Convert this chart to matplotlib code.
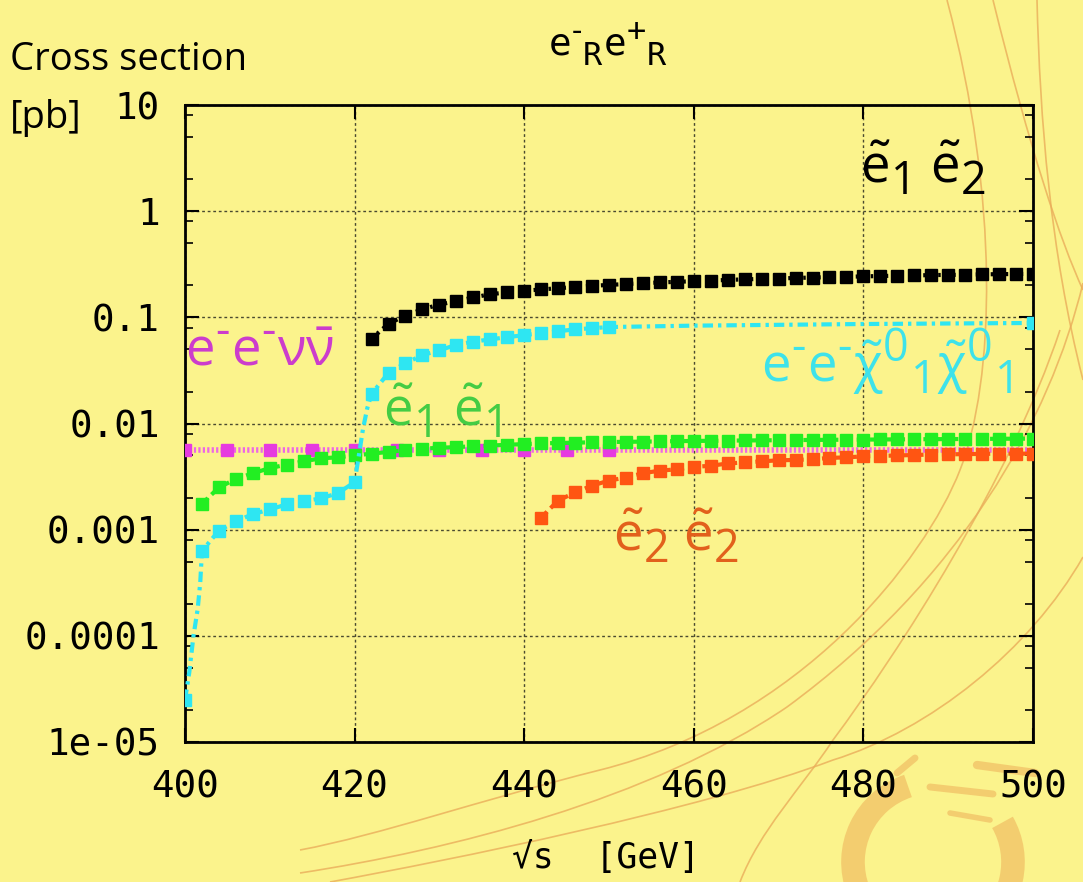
import numpy as np
import matplotlib
matplotlib.use("Agg")
import matplotlib.pyplot as plt
import matplotlib._mathtext as mathtext_internal
from matplotlib.path import Path
from matplotlib.patches import PathPatch, Arc
from matplotlib.lines import Line2D
from matplotlib.ticker import LogLocator, FixedLocator, NullFormatter, FixedFormatter

plt.rcParams['mathtext.fontset'] = 'custom'
plt.rcParams['mathtext.rm'] = 'Open Sans'
plt.rcParams['mathtext.it'] = 'Open Sans:italic'
plt.rcParams['mathtext.sf'] = 'Open Sans'
# gnuplot-like sub/superscripts: nearly full size and dropped lower
mathtext_internal.SHRINK_FACTOR = 0.85
mathtext_internal.FontConstantsBase.sub1 = 0.45

# ---- data (sqrt(s) in GeV, cross section in pb) ----
black_x = [422, 424, 426, 428, 430, 432, 434, 436, 438, 440, 442, 444, 446, 448, 450,
           452, 454, 456, 458, 460, 462, 464, 466, 468, 470, 472, 474, 476, 478, 480,
           482, 484, 486, 488, 490, 492, 494, 496, 498, 500]
black_y = [0.063, 0.087, 0.104, 0.119, 0.132, 0.142, 0.154, 0.165, 0.172, 0.178, 0.183,
           0.188, 0.193, 0.198, 0.202, 0.206, 0.210, 0.213, 0.216, 0.219, 0.222, 0.225,
           0.228, 0.230, 0.232, 0.235, 0.237, 0.239, 0.241, 0.243, 0.245, 0.247, 0.248,
           0.250, 0.251, 0.252, 0.254, 0.255, 0.256, 0.257]

cyan_x = [400, 400.5, 401, 401.5, 401.8, 402, 404, 406, 408, 410, 412, 414, 416, 418, 420,
          420.5, 421, 421.5, 422, 424, 426, 428, 430, 432, 434, 436, 438, 440, 442, 444,
          446, 448, 450, 460, 470, 480, 490, 500]
cyan_y = [2.5e-5, 4.5e-5, 1.0e-4, 1.8e-4, 3.2e-4, 6.3e-4, 9.8e-4, 1.2e-3, 1.4e-3, 1.55e-3,
          1.73e-3, 1.85e-3, 1.97e-3, 2.2e-3, 2.8e-3, 5.0e-3, 9.0e-3, 1.4e-2, 1.9e-2, 3.0e-2,
          3.7e-2, 4.4e-2, 4.9e-2, 5.5e-2, 5.9e-2, 6.2e-2, 6.5e-2, 6.8e-2, 7.1e-2, 7.4e-2,
          7.7e-2, 7.9e-2, 8.1e-2, 8.35e-2, 8.5e-2, 8.65e-2, 8.75e-2, 8.85e-2]
cyan_marked = [400, 402, 404, 406, 408, 410, 412, 414, 416, 418, 420, 422, 424, 426, 428,
               430, 432, 434, 436, 438, 440, 442, 444, 446, 448, 450, 500]

green_x = [402, 404, 406, 408, 410, 412, 414, 416, 418, 420, 422, 424, 426, 428, 430, 432,
           434, 436, 438, 440, 442, 444, 446, 448, 450, 452, 454, 456, 458, 460, 462, 464,
           466, 468, 470, 472, 474, 476, 478, 480, 482, 484, 486, 488, 490, 492, 494, 496,
           498, 500]
green_y = [1.75e-3, 2.5e-3, 3.0e-3, 3.4e-3, 3.8e-3, 4.1e-3, 4.4e-3, 4.7e-3, 4.8e-3, 5.0e-3,
           5.2e-3, 5.4e-3, 5.6e-3, 5.8e-3, 5.9e-3, 6.0e-3, 6.1e-3, 6.2e-3, 6.3e-3, 6.4e-3,
           6.5e-3, 6.55e-3, 6.6e-3, 6.65e-3, 6.7e-3, 6.72e-3, 6.75e-3, 6.78e-3, 6.82e-3,
           6.85e-3, 6.87e-3, 6.9e-3, 6.92e-3, 6.94e-3, 6.96e-3, 6.98e-3, 7.0e-3, 7.02e-3,
           7.04e-3, 7.05e-3, 7.07e-3, 7.09e-3, 7.1e-3, 7.12e-3, 7.13e-3, 7.15e-3, 7.16e-3,
           7.18e-3, 7.19e-3, 7.2e-3]

magenta_x = [400, 405, 410, 415, 420, 425, 430, 435, 440, 445, 450, 460, 470, 480, 490, 500]
magenta_y = [5.6e-3] * len(magenta_x)
magenta_marked = [400, 405, 410, 415, 420, 425, 430, 435, 440, 445, 450]

orange_x = [442, 444, 446, 448, 450, 452, 454, 456, 458, 460, 462, 464, 466, 468, 470, 472,
            474, 476, 478, 480, 482, 484, 486, 488, 490, 492, 494, 496, 498, 500]
orange_y = [1.3e-3, 1.88e-3, 2.24e-3, 2.6e-3, 2.9e-3, 3.1e-3, 3.4e-3, 3.6e-3, 3.7e-3,
            3.9e-3, 4.0e-3, 4.2e-3, 4.3e-3, 4.4e-3, 4.5e-3, 4.54e-3, 4.6e-3, 4.74e-3,
            4.8e-3, 4.9e-3, 4.95e-3, 5.0e-3, 5.05e-3, 5.1e-3, 5.12e-3, 5.15e-3, 5.17e-3,
            5.2e-3, 5.2e-3, 5.2e-3]

x_ticks = [400, 420, 440, 460, 480, 500]
y_ticks = [1e-5, 1e-4, 1e-3, 1e-2, 1e-1, 1, 10]
y_tick_labels = ['1e-05', '0.0001', '0.001', '0.01', '0.1', '1', '10']

BG = '#fbf38c'
DECO = '#eaad5a'
W, H = 1083, 882


def fx(px):
    return px / W


def fy(py):
    return 1 - py / H


fig = plt.figure(figsize=(W / 100, H / 100), dpi=100)
fig.patch.set_facecolor(BG)

# slide decoration (pixel coords): thin orange arcs, swirl in lower right corner
deco_curves = [
    [(947, 0), (1000, 200), (995, 380), (960, 470),
     (925, 560), (800, 720), (600, 770), (480, 800), (380, 835), (300, 850)],
    [(1060, 330), (1010, 480), (900, 650), (833, 740),
     (800, 790), (760, 830), (740, 882)],
    [(1083, 283), (1050, 420), (960, 580), (787, 707),
     (650, 800), (450, 850), (300, 873)],
    [(1083, 557), (1030, 650), (930, 730), (833, 760),
     (700, 810), (450, 860), (330, 882)],
    [(993, 0), (1030, 150), (1060, 240), (1083, 290)],
    [(1037, 0), (1040, 120), (1050, 250), (1083, 380)],
]
for pts in deco_curves:
    verts = [(fx(x), fy(y)) for x, y in pts]
    codes = [Path.MOVETO] + [Path.CURVE4] * (len(verts) - 1)
    fig.add_artist(PathPatch(Path(verts, codes), transform=fig.transFigure, fc='none',
                             ec=DECO, lw=1.2, alpha=0.8, zorder=-1))
for t1, t2 in [(105, 290), (-60, 35)]:
    fig.add_artist(Arc((fx(933), fy(862)), 2 * 80 / W, 2 * 80 / H, theta1=t1, theta2=t2,
                       transform=fig.transFigure, color='#f2c468', lw=17, alpha=0.8,
                       zorder=-1))
for (x0, y0), (x1, y1), w in [((930, 787), (993, 794), 5), ((950, 813), (990, 820), 4),
                              ((977, 765), (1035, 773), 6), ((897, 773), (915, 758), 5)]:
    fig.add_artist(Line2D([fx(x0), fx(x1)], [fy(y0), fy(y1)], transform=fig.transFigure,
                          color='#f2c468', lw=w, alpha=0.8, solid_capstyle='round',
                          zorder=-1))

ax = fig.add_axes([fx(185), fy(742), fx(1033) - fx(185), fy(105) - fy(742)])
ax.set_facecolor('none')
ax.set_yscale('log')
ax.set_xlim(400, 500)
ax.set_ylim(1e-5, 10)

ms = 8
ax.plot(magenta_x, magenta_y, color='#ee66e6', lw=4, ls=(0, (0.4, 0.4)),
        marker='s', ms=ms, mfc='#e63ae0', mec='#e63ae0',
        markevery=[magenta_x.index(v) for v in magenta_marked], zorder=3)
ax.plot(green_x, green_y, color='#22ee22', lw=3, ls=(0, (2, 1.2)),
        marker='s', ms=ms, mfc='#22ee22', mec='#22ee22', zorder=4)
ax.plot(orange_x, orange_y, color='#ff5512', lw=3, ls=(0, (2, 1.2)),
        marker='s', ms=ms, mfc='#ff5512', mec='#ff5512', zorder=4)
ax.plot(cyan_x, cyan_y, color='#2ee6f2', lw=3, ls=(0, (2.5, 1.2, 0.8, 1.2)),
        marker='s', ms=ms, mfc='#2ee6f2', mec='#2ee6f2',
        markevery=[cyan_x.index(v) for v in cyan_marked], zorder=5)
ax.plot(black_x, black_y, color='black', lw=3, ls=(0, (0.6, 1.2)),
        marker='s', ms=ms, mfc='black', mec='black', zorder=6)

# axes, ticks and grid in gnuplot style
for sp in ax.spines.values():
    sp.set_linewidth(2)
ax.xaxis.set_major_locator(FixedLocator(x_ticks))
ax.yaxis.set_major_locator(FixedLocator(y_ticks))
ax.yaxis.set_major_formatter(FixedFormatter(y_tick_labels))
ax.yaxis.set_minor_locator(LogLocator(base=10, subs=(2, 5, 8), numticks=20))
ax.yaxis.set_minor_formatter(NullFormatter())
ax.tick_params(axis='both', which='both', direction='in', top=True, right=True)
ax.tick_params(which='major', length=10, width=1.5, labelsize=27)
ax.tick_params(axis='x', which='major', pad=20)
ax.tick_params(axis='y', which='major', pad=18)
ax.tick_params(which='minor', length=6, width=1.2)
for lab in ax.get_xticklabels() + ax.get_yticklabels():
    lab.set_family('DejaVu Sans Mono')
ax.grid(True, which='major', color='#4a4a30', ls=(0, (2, 2)), lw=1)

# texts
fig.text(fx(10), fy(60), 'Cross section', family='Open Sans', fontsize=27.5, va='center')
fig.text(fx(10), fy(118), '[pb]', family='Open Sans', fontsize=27.5, va='center')
fig.text(fx(608), fy(45), r'$\mathregular{e^{\text{-}}{}_{R}e^{+}{}_{R}}$',
         family='DejaVu Sans Mono', fontsize=27, ha='center', va='center')
fig.text(fx(606), fy(858), '\u221as  [GeV]', family='DejaVu Sans Mono', fontsize=25,
         ha='center', va='center')

lab_size = 38
fig.text(fx(860), fy(182), r'$\mathrm{\tilde{e}_{1}\;\tilde{e}_{2}}$', fontsize=lab_size,
         color='black', va='baseline')
fig.text(fx(185), fy(365), r'$\mathrm{e^{\text{-}}e^{\text{-}}\nu\bar{\nu}}$',
         fontsize=lab_size, color='#cc3ccc', va='baseline')
fig.text(fx(383), fy(425), r'$\mathrm{\tilde{e}_{1}\;\tilde{e}_{1}}$', fontsize=lab_size,
         color='#44cc44', va='baseline')
fig.text(fx(761), fy(382),
         r'$\mathrm{e^{\text{-}}e^{\text{-}}\tilde{\chi}^{0}{}_{1}\tilde{\chi}^{0}{}_{1}}$',
         fontsize=lab_size, color='#3ee2ea', va='baseline')
fig.text(fx(613), fy(550), r'$\mathrm{\tilde{e}_{2}\;\tilde{e}_{2}}$', fontsize=lab_size,
         color='#e2601c', va='baseline')

fig.savefig('out.png', dpi=100, facecolor=BG)
